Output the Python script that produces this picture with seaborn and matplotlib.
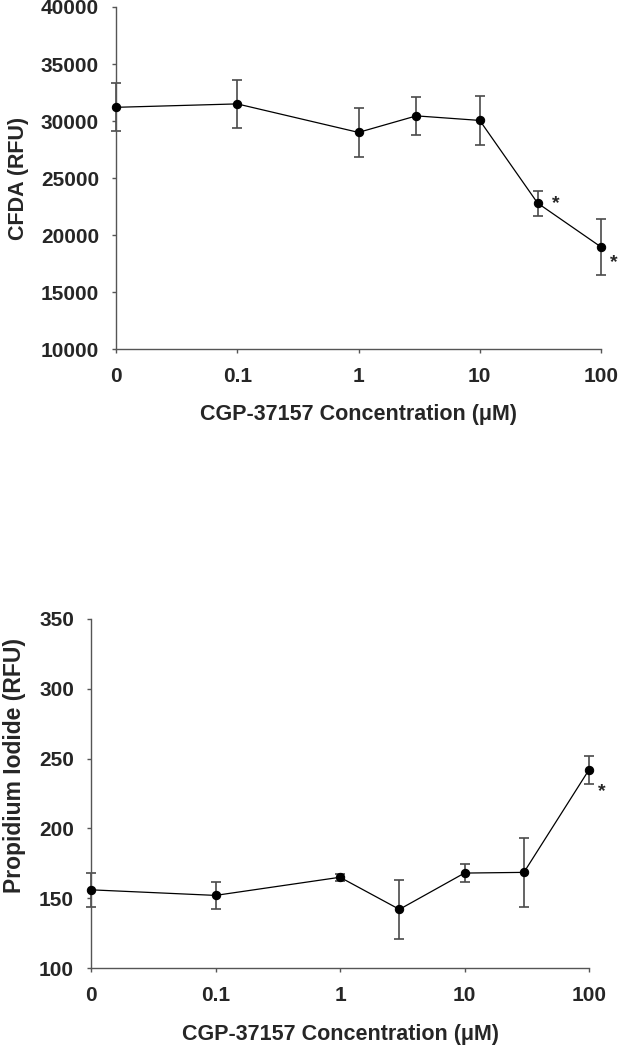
import numpy as np
import pandas as pd
import seaborn as sns
import matplotlib.pyplot as plt

# concentrations (uM); 0 is drawn one decade below 0.1 on the log axis
conc = [0, 0.1, 1, 3, 10, 30, 100]
cfda = [31200, 31500, 29000, 30450, 30050, 22800, 18950]
cfda_err = [2100, 2100, 2150, 1650, 2150, 1100, 2450]
cfda_sig = [30, 100]
pi = [156, 152, 165, 142, 168, 168.5, 242]
pi_err = [12, 9.5, 2.5, 21, 6.5, 24.5, 10]
pi_sig = [100]
xtick_vals = [0, 0.1, 1, 10, 100]
xtick_labels = ['0', '0.1', '1', '10', '100']

sns.set_style('ticks')
plt.rcParams['font.family'] = ['Liberation Sans', 'DejaVu Sans']
plt.rcParams['font.weight'] = 'bold'


def plot_x(vals):
    return [0.01 if v == 0 else v for v in vals]


def draw_panel(ax, y, err, sig, star_offsets, ylim, ystep, ylabel,
               ylab_pos, ylab_size):
    df = pd.DataFrame({'x': plot_x(conc), 'y': y, 'err': err})
    ax.errorbar(df['x'], df['y'], yerr=df['err'], fmt='none', ecolor='#4a4a4a',
                elinewidth=1.2, capsize=3.8, capthick=1.2, zorder=2, clip_on=False)
    sns.lineplot(data=df, x='x', y='y', ax=ax, color='black', linewidth=0.9,
                 marker='o', markersize=6, markeredgecolor='black', zorder=3,
                 clip_on=False)
    for s, off in zip(sig, star_offsets):
        i = conc.index(s)
        ax.annotate('*', (plot_x([s])[0], y[i]), xytext=off,
                    textcoords='offset points', fontsize=14, fontweight='bold',
                    ha='center', va='center')
    ax.set_xscale('log')
    ax.set_xlim(0.01, 100)
    ax.set_xticks(plot_x(xtick_vals))
    ax.set_xticklabels(xtick_labels)
    ax.minorticks_off()
    ax.set_ylim(*ylim)
    ax.set_yticks(np.arange(ylim[0], ylim[1] + 1, ystep))
    ax.tick_params(labelsize=15, length=3.2, width=1, color='#555555')
    ax.tick_params(axis='x', pad=10)
    ax.tick_params(axis='y', pad=9)
    for lab in ax.get_xticklabels() + ax.get_yticklabels():
        lab.set_fontweight('bold')
    ax.set_xlabel('CGP-37157 Concentration (\u03bcM)', fontsize=15.5,
                  fontweight='bold')
    ax.set_ylabel(ylabel, fontsize=ylab_size, fontweight='bold')
    ax.xaxis.set_label_coords(0.5, -0.160)
    ax.yaxis.set_label_coords(*ylab_pos)
    for sp in ['left', 'bottom']:
        ax.spines[sp].set_color('#555555')
        ax.spines[sp].set_linewidth(1)
    sns.despine(ax=ax)


fig = plt.figure(figsize=(6.19, 10.5), dpi=100)
ax1 = fig.add_axes([116 / 619, 1 - 349 / 1050, 485 / 619, 342 / 1050])
ax2 = fig.add_axes([91 / 619, 1 - 968 / 1050, 498 / 619, 349 / 1050])

draw_panel(ax1, cfda, cfda_err, cfda_sig, [(13, 0), (9.5, -11.5)],
           (10000, 40000), 5000, 'CFDA (RFU)', (-0.18, 0.5), 15.5)
draw_panel(ax2, pi, pi_err, pi_sig, [(9, -16)],
           (100, 350), 50, 'Propidium Iodide (RFU)', (-0.13, 0.58), 16.5)

fig.savefig('out.png', dpi=100)
